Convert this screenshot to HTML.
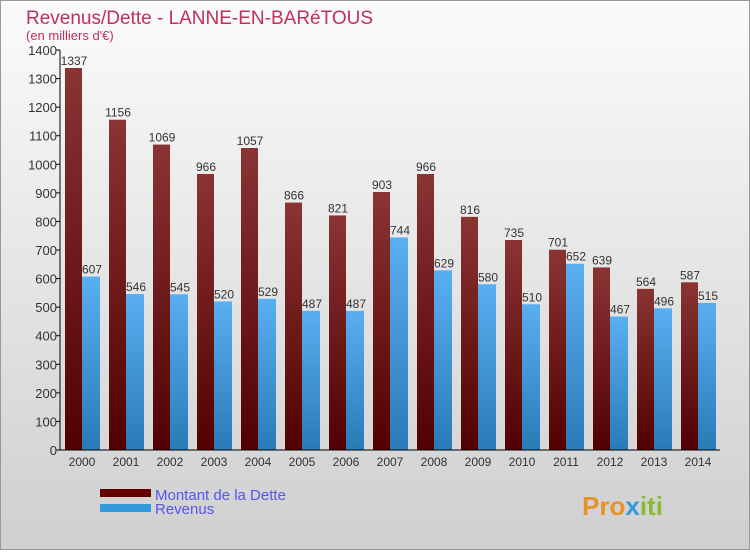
<!DOCTYPE html>
<html><head><meta charset="utf-8"><style>
body{margin:0}
svg text{font-family:"Liberation Sans",sans-serif}
</style></head><body>
<svg id="c" width="750" height="550" xmlns="http://www.w3.org/2000/svg">
<defs>
<linearGradient id="bg" x1="0" y1="0" x2="0" y2="1"><stop offset="0" stop-color="#fbfbfb"/><stop offset="1" stop-color="#cfcfcf"/></linearGradient>
<linearGradient id="gd" x1="0" y1="0" x2="0" y2="1"><stop offset="0" stop-color="#8a3434"/><stop offset="1" stop-color="#520000"/></linearGradient>
<linearGradient id="gr" x1="0" y1="0" x2="0" y2="1"><stop offset="0" stop-color="#5aaff0"/><stop offset="1" stop-color="#2a7ab8"/></linearGradient>
</defs>
<rect x="0.5" y="0.5" width="749" height="549" fill="url(#bg)" stroke="#999"/>
<text x="26" y="24" font-size="19" fill="#c0305a">Revenus/Dette - LANNE-EN-BARéTOUS</text>
<text x="26" y="40" font-size="13" fill="#c0305a">(en milliers d'€)</text>
<g id="plot"></g>
<g>
<rect x="100" y="489" width="51" height="8" fill="#660000"/>
<rect x="100" y="504" width="51" height="8" fill="#3399dd"/>
<text x="155" y="500" font-size="15" fill="#5555ee">Montant de la Dette</text>
<text x="155" y="514" font-size="15" fill="#5555ee">Revenus</text>
</g>
<text x="582" y="515" font-size="26" font-weight="bold" fill="#e8922a">Pro<tspan fill="#3399dd">x</tspan><tspan fill="#88bb33">iti</tspan></text>
</svg>
<script>
const years=["2000","2001","2002","2003","2004","2005","2006","2007","2008","2009","2010","2011","2012","2013","2014"];
const dette=[1337,1156,1069,966,1057,866,821,903,966,816,735,701,639,564,587];
const revenus=[607,546,545,520,529,487,487,744,629,580,510,652,467,496,515];
const yTicks=[0,100,200,300,400,500,600,700,800,900,1000,1100,1200,1300,1400];
const NS="http://www.w3.org/2000/svg";
const g=document.getElementById('plot');
const y=v=>450-v*400/1400;
const x0=i=>65+i*44;
function el(t,a,txt){const e=document.createElementNS(NS,t);for(const k in a)e.setAttribute(k,a[k]);if(txt!==undefined)e.textContent=txt;g.appendChild(e);return e;}
yTicks.forEach(v=>{
 const l=el('line',{x1:56,x2:60,y1:y(v),y2:y(v),stroke:'#000'});
 
 
 const t=el('text',{x:57,y:y(v)+5,'font-size':13,'text-anchor':'end',fill:'#333'},v);
 
 
});
years.forEach((yr,i)=>{
 const b1=el('rect',{x:x0(i),y:y(dette[i]),width:17,height:450-y(dette[i]),fill:'url(#gd)'});
 
 
 const b2=el('rect',{x:x0(i)+17,y:y(revenus[i]),width:18,height:450-y(revenus[i]),fill:'url(#gr)'});
 
 
 const t1=el('text',{x:x0(i)+9,y:y(dette[i])-3,'font-size':12,'text-anchor':'middle',fill:'#333'},dette[i]);
 
 
 const t2=el('text',{x:x0(i)+27,y:y(revenus[i])-3,'font-size':12,'text-anchor':'middle',fill:'#333'},revenus[i]);
 
 
 const xt=el('text',{x:x0(i)+17,y:466,'font-size':12,'text-anchor':'middle',fill:'#333'},yr);
 
 
});
const ya=el('line',{x1:60,x2:60,y1:50,y2:450,stroke:'#000'});


const xa=el('line',{x1:60,x2:720,y1:450,y2:450,stroke:'#000'});


</script>
</body></html>
